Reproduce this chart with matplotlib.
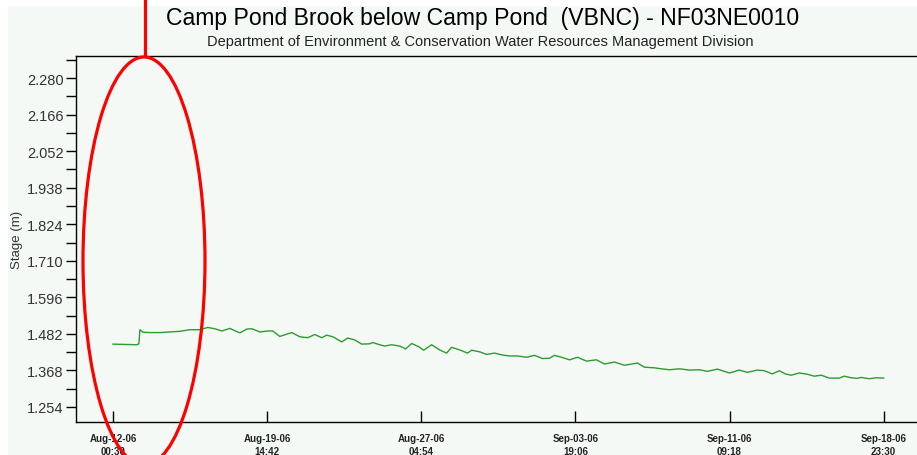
import numpy as np
import pandas as pd
import matplotlib
matplotlib.use('Agg')
import matplotlib.pyplot as plt
import matplotlib.dates as mdates
from matplotlib.patches import Ellipse, Rectangle
from matplotlib.ticker import FixedLocator, FormatStrFormatter

plt.rcParams['font.family'] = ['Liberation Sans', 'DejaVu Sans']

# Stage record (days since first reading, stage in metres)
start = pd.Timestamp('2006-08-12 00:30')
days = [0.000, 0.59, 1.166, 1.279, 1.328, 1.476, 1.820, 2.313, 2.805, 3.297,
        3.789, 4.281, 4.674, 5.019, 5.363, 5.757, 6.249, 6.593, 6.839, 7.233,
        7.627, 7.872, 8.217, 8.807, 9.201, 9.595, 9.939, 10.283, 10.529, 10.824,
        11.267, 11.563, 11.907, 12.252, 12.645, 12.793, 13.137, 13.383, 13.728, 14.121,
        14.417, 14.712, 15.056, 15.302, 15.696, 16.089, 16.434, 16.680, 17.073, 17.467,
        17.664, 18.057, 18.402, 18.796, 19.189, 19.534, 19.927, 20.370, 20.764, 21.157,
        21.502, 21.748, 22.092, 22.486, 22.879, 23.322, 23.814, 24.208, 24.700, 25.192,
        25.831, 26.176, 26.668, 27.012, 27.406, 27.898, 28.390, 28.883, 29.276, 29.768,
        30.359, 30.851, 31.244, 31.736, 32.081, 32.474, 32.818, 33.114, 33.409, 33.803,
        34.196, 34.540, 34.885, 35.279, 35.771, 36.017, 36.361, 36.656, 36.853, 37.247,
        37.591, 37.958]
stage = [1.450, 1.449, 1.448, 1.451, 1.495, 1.487, 1.486, 1.486, 1.488, 1.490,
         1.495, 1.495, 1.502, 1.498, 1.491, 1.499, 1.485, 1.497, 1.498, 1.488,
         1.491, 1.491, 1.474, 1.486, 1.473, 1.470, 1.480, 1.470, 1.478, 1.473,
         1.457, 1.469, 1.463, 1.450, 1.451, 1.455, 1.448, 1.444, 1.448, 1.444,
         1.435, 1.452, 1.442, 1.431, 1.448, 1.432, 1.422, 1.440, 1.432, 1.422,
         1.431, 1.426, 1.418, 1.422, 1.416, 1.413, 1.413, 1.409, 1.415, 1.405,
         1.406, 1.415, 1.409, 1.401, 1.409, 1.397, 1.401, 1.388, 1.394, 1.384,
         1.391, 1.378, 1.376, 1.373, 1.370, 1.373, 1.369, 1.370, 1.365, 1.372,
         1.360, 1.369, 1.362, 1.369, 1.367, 1.357, 1.367, 1.357, 1.353, 1.360,
         1.356, 1.350, 1.353, 1.344, 1.344, 1.350, 1.345, 1.343, 1.346, 1.342,
         1.345, 1.344]

y_major = [1.254, 1.368, 1.482, 1.596, 1.710, 1.824, 1.938, 2.052, 2.166, 2.280]
y_minor = [1.311, 1.425, 1.539, 1.653, 1.767, 1.881, 1.995, 2.109, 2.223, 2.337]
x_ticks = pd.to_datetime(['2006-08-12 00:30', '2006-08-19 14:42', '2006-08-27 04:54',
                          '2006-09-03 19:06', '2006-09-11 09:18', '2006-09-18 23:30'])

times = start + pd.to_timedelta(days, unit='D')

bg = '#f4f9f6'
fig = plt.figure(figsize=(9.17, 4.56), dpi=100)
fig.patch.set_facecolor('white')
fig.patches.append(Rectangle((8 / 917, 0), 1, 1 - 7 / 456, transform=fig.transFigure,
                             facecolor=bg, edgecolor='none', zorder=-10))

ax = fig.add_axes([76 / 917, 1 - 423 / 456, 1 - 76 / 917, (423 - 57) / 456])
ax.set_facecolor(bg)
ax.plot(times, stage, color='#2f9a2f', linewidth=1.0)

ax.set_ylim(1.207, 2.349)
ax.yaxis.set_major_locator(FixedLocator(y_major))
ax.yaxis.set_minor_locator(FixedLocator(y_minor))
ax.yaxis.set_major_formatter(FormatStrFormatter('%.3f'))
ax.tick_params(axis='y', which='both', direction='out', length=7, width=1,
               labelsize=10.5, labelcolor='#333333', pad=2)

ax.set_xlim(start - pd.Timedelta(days=1.82), start + pd.Timedelta(days=39.6))
ax.set_xticks(x_ticks)
ax.xaxis.set_major_formatter(mdates.DateFormatter('%b-%d-%y\n%H:%M'))
ax.tick_params(axis='x', direction='in', length=8, width=1, labelsize=7,
               labelcolor='#222222', pad=8)
for lbl in ax.get_xticklabels():
    lbl.set_fontweight('bold')
    lbl.set_linespacing(1.35)

ax.spines['right'].set_visible(False)
for s in ['left', 'bottom', 'top']:
    ax.spines[s].set_color('black')
    ax.spines[s].set_linewidth(1)

ax.set_ylabel('Stage (m)', fontsize=9.5, color='#333333', labelpad=3)

fig.text(483 / 917, 1 - 19 / 456, 'Camp Pond Brook below Camp Pond  (VBNC) - NF03NE0010',
         ha='center', va='center', fontsize=16.6, color='black')
fig.text(480 / 917, 1 - 42 / 456,
         'Department of Environment & Conservation Water Resources Management Division',
         ha='center', va='center', fontsize=10.5, color='#222222')

# red callout ring drawn in pixel space over the whole figure
ov = fig.add_axes([0, 0, 1, 1], facecolor='none')
ov.set_xlim(0, 917)
ov.set_ylim(456, 0)
ov.axis('off')
ov.add_patch(Ellipse((144, 262), 122, 408, fill=False, edgecolor='#ff0000', linewidth=2.3))
ov.plot([145, 145], [0, 58], color='#ff0000', linewidth=2.3, solid_capstyle='butt')

fig.savefig('out.png', dpi=100, facecolor='white')
